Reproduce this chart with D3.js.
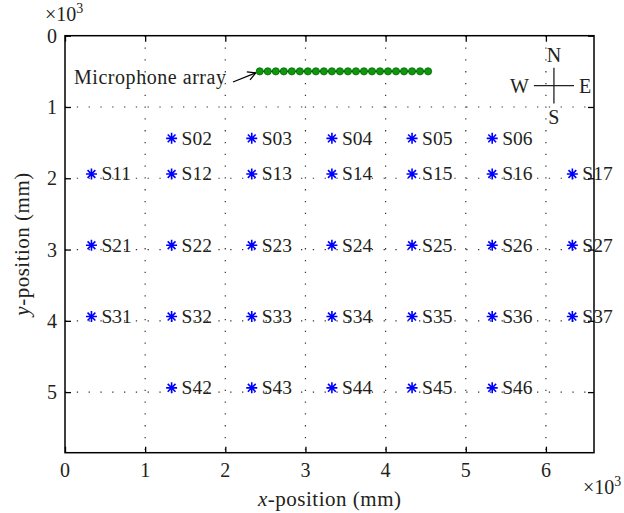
<!DOCTYPE html>
<html>
<head>
<meta charset="utf-8">
<script src="https://cdn.jsdelivr.net/npm/d3@7"></script>
<style>
  body { margin: 0; background: #fff; }
  text { font-family: 'Liberation Serif', 'Times New Roman', serif; fill: #231f20; }
</style>
</head>
<body>
<svg id="chart" width="624" height="513"></svg>
<script>
// loudspeaker positions (mm)
var srcNames = ['S02', 'S03', 'S04', 'S05', 'S06',
    'S11', 'S12', 'S13', 'S14', 'S15', 'S16', 'S17',
    'S21', 'S22', 'S23', 'S24', 'S25', 'S26', 'S27',
    'S31', 'S32', 'S33', 'S34', 'S35', 'S36', 'S37',
    'S42', 'S43', 'S44', 'S45', 'S46'];
var srcX = [1330, 2330, 3330, 4330, 5330,
    330, 1330, 2330, 3330, 4330, 5330, 6330,
    330, 1330, 2330, 3330, 4330, 5330, 6330,
    330, 1330, 2330, 3330, 4330, 5330, 6330,
    1330, 2330, 3330, 4330, 5330];
var srcY = [1440, 1440, 1440, 1440, 1440,
    1940, 1940, 1940, 1940, 1940, 1940, 1940,
    2940, 2940, 2940, 2940, 2940, 2940, 2940,
    3940, 3940, 3940, 3940, 3940, 3940, 3940,
    4940, 4940, 4940, 4940, 4940];

// microphone array (mm)
var micX = [2430, 2530, 2630, 2730, 2830, 2930, 3030, 3130, 3230, 3330, 3430,
    3530, 3630, 3730, 3830, 3930, 4030, 4130, 4230, 4330, 4430, 4530];
var micY = 500;

var xTicks = [0, 1000, 2000, 3000, 4000, 5000, 6000];
var yTicks = [0, 1000, 2000, 3000, 4000, 5000];

var svg = d3.select('#chart');
var fs = 20;

var x = d3.scaleLinear().domain([0, 6600]).range([65, 594]);
var y = d3.scaleLinear().domain([0, 5850]).range([35.7, 452.7]);

// dotted grid
svg.append('g').selectAll('line')
    .data(xTicks.slice(1))
    .enter().append('line')
    .attr('x1', d => x(d)).attr('x2', d => x(d))
    .attr('y1', y.range()[0]).attr('y2', y.range()[1])
    .attr('stroke', '#333').attr('stroke-width', 1.2)
    .attr('stroke-dasharray', '1.3,10.5');
svg.append('g').selectAll('line')
    .data(yTicks.slice(1))
    .enter().append('line')
    .attr('y1', d => y(d)).attr('y2', d => y(d))
    .attr('x1', x.range()[0]).attr('x2', x.range()[1])
    .attr('stroke', '#333').attr('stroke-width', 1.2)
    .attr('stroke-dasharray', '1.3,10.5');

// axes, ticks inward on all sides
var tk = 6;
svg.append('g').attr('transform', 'translate(0,' + y.range()[1] + ')')
    .call(d3.axisTop(x).tickValues(xTicks).tickSize(tk).tickFormat(''));
svg.append('g').attr('transform', 'translate(0,' + y.range()[0] + ')')
    .call(d3.axisBottom(x).tickValues(xTicks).tickSize(tk).tickFormat(''));
svg.append('g').attr('transform', 'translate(' + x.range()[0] + ',0)')
    .call(d3.axisRight(y).tickValues(yTicks).tickSize(tk).tickFormat(''));
svg.append('g').attr('transform', 'translate(' + x.range()[1] + ',0)')
    .call(d3.axisLeft(y).tickValues(yTicks).tickSize(tk).tickFormat(''));
svg.selectAll('.domain').remove();
svg.selectAll('.tick line').attr('stroke', '#000').attr('stroke-width', 1.3);

svg.append('rect')
    .attr('x', x.range()[0]).attr('y', y.range()[0])
    .attr('width', x.range()[1] - x.range()[0])
    .attr('height', y.range()[1] - y.range()[0])
    .attr('fill', 'none').attr('stroke', '#000').attr('stroke-width', 1.5);

// tick labels
svg.append('g').selectAll('text')
    .data(xTicks)
    .enter().append('text')
    .attr('x', d => x(d)).attr('y', y.range()[1] + 24)
    .attr('text-anchor', 'middle').style('font-size', fs + 'px')
    .text(d => d / 1000);
svg.append('g').selectAll('text')
    .data(yTicks)
    .enter().append('text')
    .attr('x', x.range()[0] - 8).attr('y', d => y(d) + 7)
    .attr('text-anchor', 'end').style('font-size', fs + 'px')
    .text(d => d / 1000);

// exponent labels
function expLabel(px, py) {
    var t = svg.append('text').attr('x', px).attr('y', py).style('font-size', fs + 'px');
    t.append('tspan').text('\u00d710');
    t.append('tspan').attr('dy', -8).style('font-size', '14px').text('3');
}
expLabel(45, 21);
expLabel(583, 494);

// axis titles
var xl = svg.append('text')
    .attr('x', (x.range()[0] + x.range()[1]) / 2).attr('y', 506)
    .attr('text-anchor', 'middle').style('font-size', '21px')
    .attr('textLength', 143);
xl.append('tspan').style('font-style', 'italic').text('x');
xl.append('tspan').text('-position (mm)');

var yl = svg.append('text')
    .attr('transform', 'translate(29,' + ((y.range()[0] + y.range()[1]) / 2) + ') rotate(-90)')
    .attr('text-anchor', 'middle').style('font-size', '21px')
    .attr('textLength', 143);
yl.append('tspan').style('font-style', 'italic').text('y');
yl.append('tspan').text('-position (mm)');

// microphone array
svg.append('line')
    .attr('x1', x(micX[0])).attr('x2', x(micX[micX.length - 1]))
    .attr('y1', y(micY)).attr('y2', y(micY))
    .attr('stroke', '#000').attr('stroke-width', 1.2);
svg.append('g').selectAll('circle')
    .data(micX)
    .enter().append('circle')
    .attr('cx', d => x(d)).attr('cy', y(micY)).attr('r', 3.6)
    .attr('fill', '#0a9a0a').attr('stroke', '#056005').attr('stroke-width', 0.8);

svg.append('text')
    .attr('x', 74).attr('y', 84)
    .style('font-size', fs + 'px')
    .attr('textLength', 152)
    .text('Microphone array');

// arrow from label to array
var ax0 = 233, ay0 = 82, ax1 = x(micX[0]) - 4, ay1 = y(micY) + 1.5;
svg.append('line')
    .attr('x1', ax0).attr('y1', ay0).attr('x2', ax1).attr('y2', ay1)
    .attr('stroke', '#000').attr('stroke-width', 1.3);
var ang = Math.atan2(ay1 - ay0, ax1 - ax0);
[-0.5, 0.5].forEach(function (da) {
    svg.append('line')
        .attr('x1', ax1).attr('y1', ay1)
        .attr('x2', ax1 - 9 * Math.cos(ang + da))
        .attr('y2', ay1 - 9 * Math.sin(ang + da))
        .attr('stroke', '#000').attr('stroke-width', 1.3);
});

// loudspeakers
var star = 'M0,-5.5L0,5.5M-5.5,0L5.5,0M-3.9,-3.9L3.9,3.9M-3.9,3.9L3.9,-3.9';
var srcG = svg.append('g').selectAll('g')
    .data(srcNames)
    .enter().append('g')
    .attr('transform', (d, i) => 'translate(' + [x(srcX[i]), y(srcY[i])] + ')');
srcG.append('path')
    .attr('d', star)
    .attr('stroke', '#0000ff').attr('stroke-width', 1.6).attr('fill', 'none');
srcG.append('text')
    .attr('x', 10).attr('y', 6.5)
    .style('font-size', '19.5px')
    .text(d => d);

// compass
var cx = x(6100), cy = y(700), arm = x(250) - x(0), armV = y(250) - y(0);
svg.append('line').attr('x1', cx - arm).attr('x2', cx + arm).attr('y1', cy).attr('y2', cy)
    .attr('stroke', '#222').attr('stroke-width', 1.3);
svg.append('line').attr('x1', cx).attr('x2', cx).attr('y1', cy - armV).attr('y2', cy + armV)
    .attr('stroke', '#222').attr('stroke-width', 1.3);
svg.append('text').attr('x', cx).attr('y', cy - armV - 6).attr('text-anchor', 'middle')
    .style('font-size', fs + 'px').text('N');
svg.append('text').attr('x', cx).attr('y', cy + armV + 21).attr('text-anchor', 'middle')
    .style('font-size', fs + 'px').text('S');
svg.append('text').attr('x', cx - arm - 5).attr('y', cy + 7).attr('text-anchor', 'end')
    .style('font-size', fs + 'px').text('W');
svg.append('text').attr('x', cx + arm + 5).attr('y', cy + 7).attr('text-anchor', 'start')
    .style('font-size', fs + 'px').text('E');
</script>
</body>
</html>
